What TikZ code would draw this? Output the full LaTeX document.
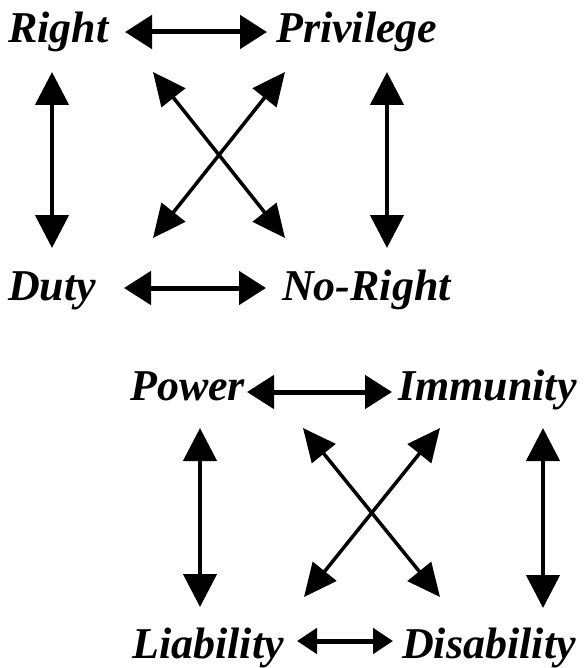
\documentclass[tikz,border=0pt]{standalone}
\usepackage{fontspec}
\setmainfont{Liberation Serif}
\usetikzlibrary{arrows.meta}
\tikzset{
  lbl/.style={anchor=base west, inner sep=0pt, font=\fontsize{44}{50}\selectfont\bfseries\itshape},
  harrow/.style={line width=5pt, {Triangle[length=27pt,width=33pt]}-{Triangle[length=27pt,width=33pt]}},
  sharrow/.style={line width=5pt, {Triangle[length=20pt,width=25pt]}-{Triangle[length=20pt,width=25pt]}},
  varrow/.style={line width=4.5pt, {Triangle[length=33pt,width=33pt]}-{Triangle[length=33pt,width=33pt]}},
  darrow/.style={line width=3.5pt, {Triangle[length=33pt,width=30pt]}-{Triangle[length=33pt,width=30pt]}}
}
\begin{document}
\begin{tikzpicture}[x=1pt,y=-1pt]
\useasboundingbox (0,0) rectangle (587,668);
% top group
\node[lbl] (right) at (8,43) {Right};
\node[lbl] (priv) at (276,43) {Privilege};
\node[lbl] (duty) at (8,300) {Duty};
\node[lbl] (noright) at (282,300) {No-Right};
\coordinate (h1a) at (125,32); \coordinate (h1b) at (267,32);
\coordinate (h2a) at (124,288); \coordinate (h2b) at (266,288);
\coordinate (v1a) at (52,72); \coordinate (v1b) at (52,248);
\coordinate (v2a) at (387,72); \coordinate (v2b) at (387,248);
\coordinate (d1a) at (153,72); \coordinate (d1b) at (285,238);
\coordinate (d2a) at (285,72); \coordinate (d2b) at (153,238);
\draw[harrow] (h1a) -- (h1b);
\draw[harrow] (h2a) -- (h2b);
\draw[varrow] (v1a) -- (v1b);
\draw[varrow] (v2a) -- (v2b);
\draw[darrow] (d1a) -- (d1b);
\draw[darrow] (d2a) -- (d2b);
% bottom group
\node[lbl] (power) at (130,400) {Power};
\node[lbl] (immun) at (398,400) {Immunity};
\node[lbl] (liab) at (132,658) {Liability};
\node[lbl] (disab) at (402,658) {Disability};
\coordinate (h3a) at (247,392); \coordinate (h3b) at (392,392);
\coordinate (h4a) at (297,641); \coordinate (h4b) at (393,641);
\coordinate (v3a) at (200,428); \coordinate (v3b) at (200,607);
\coordinate (v4a) at (543,428); \coordinate (v4b) at (543,608);
\coordinate (d3a) at (303,428); \coordinate (d3b) at (440,597);
\coordinate (d4a) at (440,428); \coordinate (d4b) at (304,597);
\draw[harrow] (h3a) -- (h3b);
\draw[sharrow] (h4a) -- (h4b);
\draw[varrow] (v3a) -- (v3b);
\draw[varrow] (v4a) -- (v4b);
\draw[darrow] (d3a) -- (d3b);
\draw[darrow] (d4a) -- (d4b);
\end{tikzpicture}
\end{document}
